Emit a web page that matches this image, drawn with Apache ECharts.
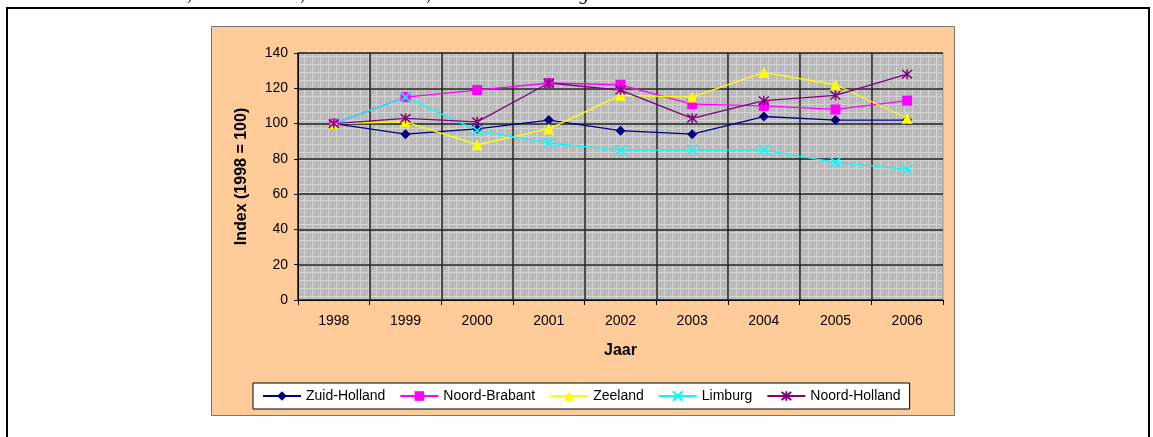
<!DOCTYPE html>
<html>
<head>
<meta charset="utf-8">
<script src="https://cdn.jsdelivr.net/npm/echarts@6/dist/echarts.min.js"></script>
<style>
html,body{margin:0;padding:0;background:#fff;}
#chart{width:1153px;height:437px;}
</style>
</head>
<body>
<div id="chart"></div>
<script>
// ---- data ----
const years = ['1998','1999','2000','2001','2002','2003','2004','2005','2006'];
const zuidHolland   = [100, 94, 97, 102, 96, 94, 104, 102, 102];
const noordBrabant  = [100, 115, 119, 123, 122, 111, 110, 108, 113];
const zeeland       = [100, 101, 88, 97, 116, 115, 129, 122, 103];
const limburg       = [100, 115, 96, 89, 85, 85, 85, 78, 74];
const noordHolland  = [100, 103, 101, 123, 119, 103, 113, 116, 128];
const seriesNames = ['Zuid-Holland','Noord-Brabant','Zeeland','Limburg','Noord-Holland'];
const yTitle = 'Index (1998 = 100)';
const xTitle = 'Jaar';
const topText = 'Holland, Zuid-Holland, Noord-Brabant, Zeeland en Limburg';

// ---- plot background pattern (Excel-like grey fill) ----
const pc = document.createElement('canvas');
pc.width = 8; pc.height = 8;
const pctx = pc.getContext('2d');
pctx.fillStyle = '#b2b2b2';
pctx.fillRect(0, 0, 8, 8);
pctx.fillStyle = '#c4c4c4';
for (let y = 0; y < 8; y++) for (let x = 0; x < 8; x++) if ((x + y) % 2 === 0) pctx.fillRect(x, y, 1, 1);
pctx.fillStyle = '#d4d4d4';
pctx.fillRect(0, 0, 8, 1);
pctx.fillRect(0, 0, 1, 8);

const FONT = '"Liberation Sans", Arial, sans-serif';
const xPath = 'path://M0,0L10,10M10,0L0,10';
const starPath = 'path://M0,0L10,10M10,0L0,10M5,-1L5,11';

function mk(name, data, color, symbol, size, stroke) {
  const s = {
    name: name, type: 'line', data: data,
    symbol: symbol, symbolSize: size,
    lineStyle: {color: color, width: 1.3},
    itemStyle: {color: color},
    emphasis: {disabled: true}
  };
  if (stroke) {
    s.itemStyle.borderColor = color;
    s.itemStyle.borderWidth = 1.5;
  } else {
    s.itemStyle.borderWidth = 0;
  }
  return s;
}

const chart = echarts.init(document.getElementById('chart'), null, {renderer: 'canvas'});
chart.setOption({
  animation: false,
  backgroundColor: '#ffffff',
  textStyle: {fontFamily: FONT},
  graphic: [
    {type: 'rect', z: -3, silent: true,
     shape: {x: 7, y: 8, width: 1142, height: 520},
     style: {fill: 'none', stroke: '#000', lineWidth: 2}},
    {type: 'rect', z: -2, silent: true,
     shape: {x: 211.5, y: 26.5, width: 743, height: 389},
     style: {fill: '#FFCC99', stroke: '#777', lineWidth: 1}},
    {type: 'text', z: -2, silent: true, x: 125, y: 4,
     style: {text: topText, font: 'italic 19px "Liberation Serif", serif', fill: '#000', align: 'left', verticalAlign: 'bottom'}}
  ],
  grid: {
    left: 298, top: 53, width: 645, height: 247,
    show: true, backgroundColor: {image: pc, repeat: 'repeat'},
    borderColor: '#999', borderWidth: 1
  },
  legend: {
    data: seriesNames,
    left: 253, top: 383,
    orient: 'horizontal',
    padding: [6, 9, 6, 9],
    itemGap: 14, itemWidth: 38, itemHeight: 12,
    backgroundColor: '#ffffff', borderColor: '#000', borderWidth: 1, borderRadius: 0,
    textStyle: {fontSize: 14, color: '#000', fontFamily: FONT},
    selectedMode: false
  },
  xAxis: {
    type: 'category', data: years, boundaryGap: true,
    axisLine: {show: true, lineStyle: {color: '#000', width: 1}},
    axisTick: {show: true, length: 5, lineStyle: {color: '#000'}},
    axisLabel: {fontSize: 14, color: '#000', margin: 14, fontFamily: FONT},
    splitLine: {show: true, showMaxLine: false, lineStyle: {color: '#222', width: 1.5}},
    name: xTitle, nameLocation: 'middle', nameGap: 43,
    nameTextStyle: {fontSize: 16, fontWeight: 'bold', color: '#000', fontFamily: FONT}
  },
  yAxis: {
    type: 'value', min: 0, max: 140, interval: 20,
    axisLine: {show: true, lineStyle: {color: '#000', width: 1}},
    axisTick: {show: true, length: 4, lineStyle: {color: '#000'}},
    axisLabel: {fontSize: 14, color: '#000', margin: 10, fontFamily: FONT},
    splitLine: {show: true, lineStyle: {color: '#222', width: 1.5}},
    name: yTitle, nameLocation: 'middle', nameGap: 48,
    nameTextStyle: {fontSize: 16, fontWeight: 'bold', color: '#000', fontFamily: FONT}
  },
  series: [
    mk(seriesNames[0], zuidHolland, '#000080', 'diamond', 10, false),
    mk(seriesNames[1], noordBrabant, '#FF00FF', 'rect', 10, false),
    mk(seriesNames[2], zeeland, '#FFFF00', 'triangle', 11, false),
    mk(seriesNames[3], limburg, '#00FFFF', xPath, 10, true),
    mk(seriesNames[4], noordHolland, '#800080', starPath, 10, true)
  ]
});
</script>
</body>
</html>
